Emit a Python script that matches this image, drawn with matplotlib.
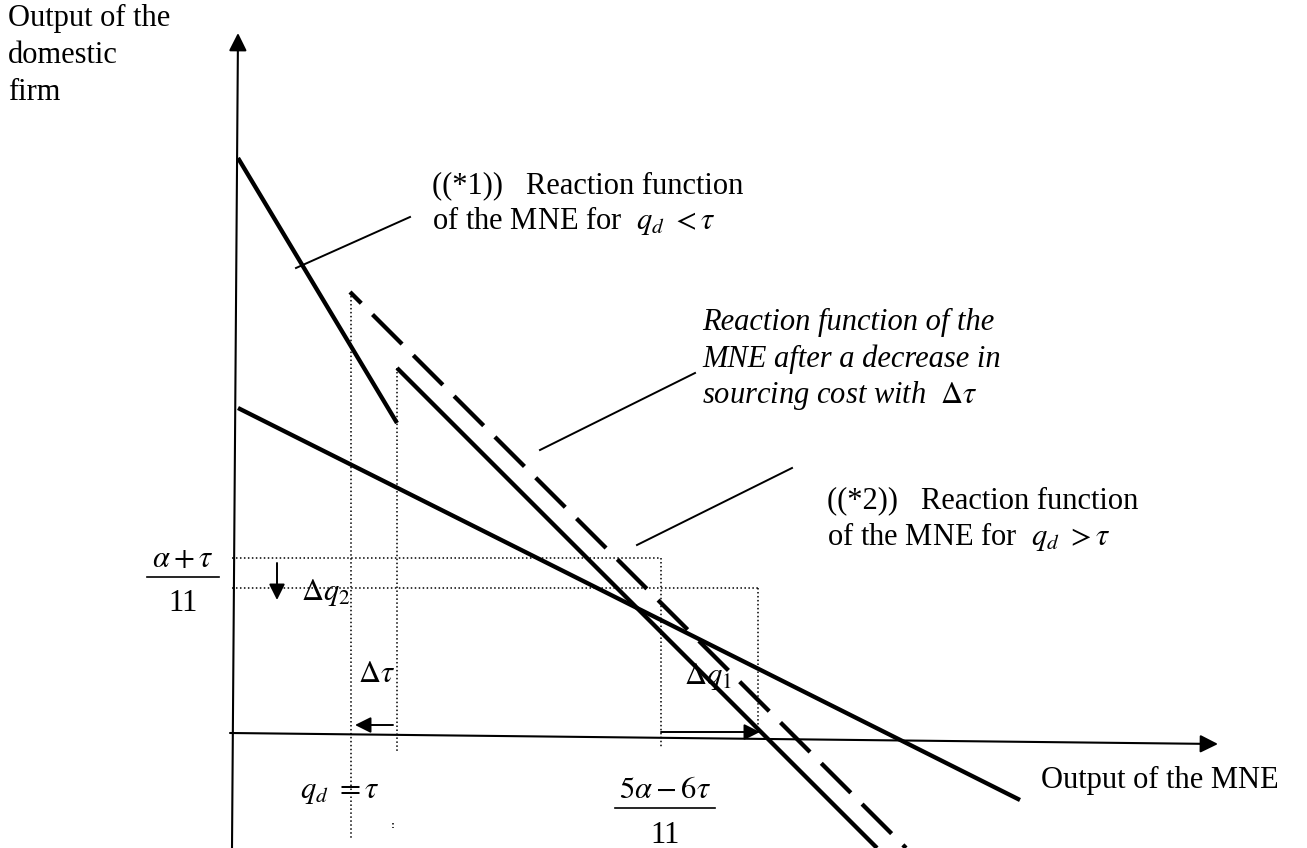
import numpy as np
import matplotlib.pyplot as plt

plt.rcParams['font.family'] = ['Liberation Serif', 'DejaVu Serif']
plt.rcParams['mathtext.fontset'] = 'stix'

# ---------- diagram geometry (pixel space, y grows downward) ----------
y_axis = [(232, 848), (238, 33)]
x_axis = [(230, 733), (1218, 744)]

rf_low = [(238, 158), (397, 423)]      # reaction fn of MNE, q_d < tau
rf_high = [(397, 368), (877, 848)]     # reaction fn of MNE, q_d > tau
rf_shift = [(350, 292), (906, 848)]    # after decrease in sourcing cost
rf_dom = [(238, 408), (1020, 800)]     # reaction fn of domestic firm

guides = [
    [(232, 558), (661, 558)],
    [(232, 588), (758, 588)],
    [(351, 292), (351, 840)],
    [(397, 368), (397, 753)],
    [(661, 558), (661, 747)],
    [(758, 588), (758, 735)],
]

pointers = [
    [(296, 268), (410, 217)],
    [(540, 450), (695, 373)],
    [(637, 545), (792, 468)],
]

small_arrows = [
    [(277, 563), (277, 600)],   # delta q2
    [(393, 725), (355, 725)],   # delta tau
    [(661, 732), (760, 732)],   # delta q1
]

frac_bars = [[(147, 577), (219, 577)], [(615, 808), (715, 808)]]

y_title = ['Output of the', 'domestic', 'firm']
shift_label = ['Reaction function of the', 'MNE after a decrease in',
               r'sourcing cost with  $\Delta\tau$']

FS = 22

fig = plt.figure(figsize=(13.07, 8.48), dpi=100)
ax = fig.add_axes([0, 0, 1, 1])
ax.set_xlim(0, 1307)
ax.set_ylim(848, 0)
ax.axis('off')


def seg(p, **kw):
    (x0, y0), (x1, y1) = p
    ax.plot([x0, x1], [y0, y1], color='k', **kw)


def arrow(p, ms, lw):
    ax.annotate('', xy=p[1], xytext=p[0],
                arrowprops=dict(arrowstyle='-|>,head_length=0.4,head_width=0.2',
                                mutation_scale=ms, lw=lw, color='k',
                                shrinkA=0, shrinkB=0))


# axes
arrow(y_axis, 27, 1.5)
arrow(x_axis, 27, 1.5)

# reaction functions
for r in (rf_low, rf_high, rf_dom):
    seg(r, lw=3.1, solid_capstyle='butt')
seg(rf_shift, lw=3.1, linestyle=(6.0, (9.7, 3.7)), dash_capstyle='butt')

# dotted guides
for g in guides:
    seg(g, lw=1.1, linestyle=(0, (1, 1.6)))
ax.plot([393, 393], [823, 828], color='k', lw=1.1, linestyle=(0, (1, 1.6)))

for p in pointers:
    seg(p, lw=1.4)

for a in small_arrows:
    arrow(a, 24, 1.4)

for b in frac_bars:
    seg(b, lw=1.2)

# labels
for i, s in enumerate(y_title):
    ax.text(8, 26 + 37 * i, s, fontsize=FS, va='baseline')
ax.text(1041, 788, 'Output of the MNE', fontsize=FS, va='baseline')

ax.text(432, 193, '((*1))   Reaction function', fontsize=FS, va='baseline')
ax.text(432, 229, r'of the MNE for  $q_d\ <\tau$', fontsize=FS, va='baseline')

for i, s in enumerate(shift_label):
    ax.text(702, 330 + 36.5 * i, s, fontsize=FS, style='italic', va='baseline')

ax.text(827, 508, '((*2))   Reaction function', fontsize=FS, va='baseline')
ax.text(827, 545, r'of the MNE for  $q_d\ >\tau$', fontsize=FS, va='baseline')

ax.text(183, 567, r'$\alpha+\tau$', fontsize=FS, ha='center', va='baseline')
ax.text(183, 611, '11', fontsize=FS, ha='center', va='baseline')
ax.text(665, 798, r'$5\alpha-6\tau$', fontsize=FS, ha='center', va='baseline')
ax.text(665, 843, '11', fontsize=FS, ha='center', va='baseline')

ax.text(301, 600, r'$\Delta q_2$', fontsize=FS, va='baseline')
ax.text(358, 682, r'$\Delta\tau$', fontsize=FS, va='baseline')
ax.text(684, 684, r'$\Delta q_1$', fontsize=FS, va='baseline')
ax.text(300, 798, r'$q_d\ =\tau$', fontsize=FS, va='baseline')

fig.savefig('out.png', dpi=100)
